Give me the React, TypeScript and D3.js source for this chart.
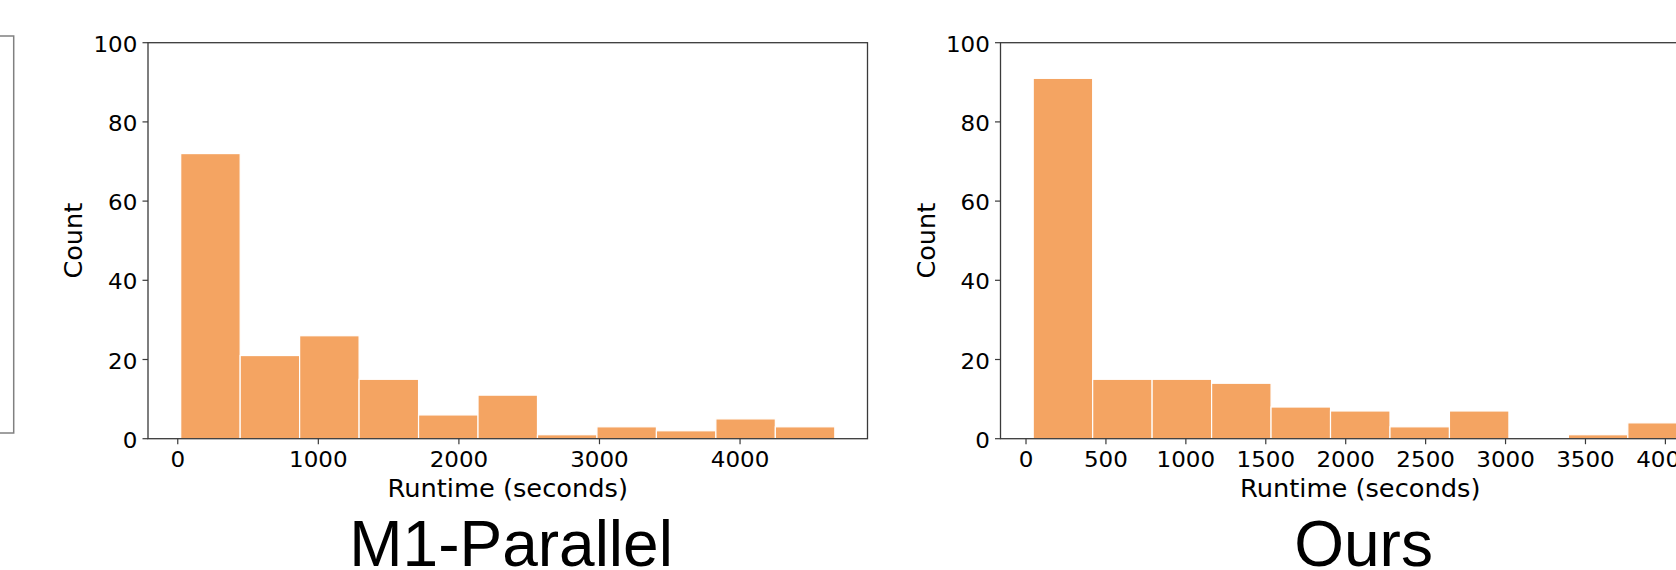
import React, { useEffect, useRef } from "react";
import * as d3 from "d3";

// runtime histograms, 11 equal bins each
const m1Range = [21, 4674];
const m1Counts = [72, 21, 26, 15, 6, 11, 1, 3, 2, 5, 3];
const m1XTicks = [0, 1000, 2000, 3000, 4000];

const oursRange = [45, 4137];
const oursCounts = [91, 15, 15, 14, 8, 7, 3, 7, 0, 1, 4];
const oursXTicks = [0, 500, 1000, 1500, 2000, 2500, 3000, 3500, 4000];

const yTicks = [0, 20, 40, 60, 80, 100];

const W = 1676;
const H = 570;
const BAR = "#f4a462";
const SPINE = "#3a3a3a";
const TICK_FONT = "'DejaVu Sans', sans-serif";

function drawHist(svg, left, range, counts, xTicks, title) {
  const width = 719.5;
  const top = 42.7;
  const bottom = 438.7;
  const [lo, hi] = range;
  const pad = (hi - lo) * 0.05;

  const x = d3.scaleLinear().domain([lo - pad, hi + pad]).range([left, left + width]);
  const y = d3.scaleLinear().domain([0, 100]).range([bottom, top]);

  const step = (hi - lo) / counts.length;
  const bins = counts.map((c, i) => ({ x0: lo + i * step, x1: lo + (i + 1) * step, c }));

  const g = svg.append("g");

  g.selectAll("rect.bar")
    .data(bins.filter((b) => b.c > 0))
    .enter()
    .append("rect")
    .attr("class", "bar")
    .attr("x", (d) => x(d.x0))
    .attr("width", (d) => x(d.x1) - x(d.x0))
    .attr("y", (d) => y(d.c))
    .attr("height", (d) => y(0) - y(d.c))
    .attr("fill", BAR)
    .attr("stroke", "#ffffff")
    .attr("stroke-width", 1.2);

  // frame
  g.append("rect")
    .attr("x", left)
    .attr("y", top)
    .attr("width", width)
    .attr("height", bottom - top)
    .attr("fill", "none")
    .attr("stroke", SPINE)
    .attr("stroke-width", 1.3);

  // y ticks
  yTicks.forEach((t) => {
    g.append("line")
      .attr("x1", left - 5.5)
      .attr("x2", left)
      .attr("y1", y(t))
      .attr("y2", y(t))
      .attr("stroke", SPINE)
      .attr("stroke-width", 1.2);
    g.append("text")
      .attr("transform", `translate(${left - 10.7},${y(t) + 9}) scale(1.07,1)`)
      .attr("text-anchor", "end")
      .attr("font-family", TICK_FONT)
      .attr("font-size", 21.5)
      .attr("fill", "#000")
      .text(t);
  });

  // x ticks
  xTicks.forEach((t) => {
    g.append("line")
      .attr("x1", x(t))
      .attr("x2", x(t))
      .attr("y1", bottom)
      .attr("y2", bottom + 5.5)
      .attr("stroke", SPINE)
      .attr("stroke-width", 1.2);
    g.append("text")
      .attr("transform", `translate(${x(t)},${466.5}) scale(1.07,1)`)
      .attr("text-anchor", "middle")
      .attr("font-family", TICK_FONT)
      .attr("font-size", 21.5)
      .attr("fill", "#000")
      .text(t);
  });

  const cx = left + width / 2;

  g.append("text")
    .attr("transform", `translate(${cx},496.5) scale(1.07,1)`)
    .attr("text-anchor", "middle")
    .attr("font-family", TICK_FONT)
    .attr("font-size", 24)
    .attr("fill", "#000")
    .text("Runtime (seconds)");

  g.append("text")
    .attr("transform", `translate(${left - 66},${(top + bottom) / 2}) rotate(-90)`)
    .attr("text-anchor", "middle")
    .attr("font-family", TICK_FONT)
    .attr("font-size", 25.5)
    .attr("fill", "#000")
    .text("Count");

  g.append("text")
    .attr("x", cx + 3.3)
    .attr("y", 565.5)
    .attr("text-anchor", "middle")
    .attr("font-family", "'Liberation Sans', Arial, sans-serif")
    .attr("font-size", 64)
    .attr("fill", "#000")
    .text(title);
}

export default function App() {
  const ref = useRef(null);

  useEffect(() => {
    if (!ref.current) return;
    const svg = d3.select(ref.current);
    svg.selectAll("*").remove();

    svg.append("rect").attr("width", W).attr("height", H).attr("fill", "#fff");

    // edge of the neighbouring panel, cut off on the left
    svg.append("rect")
      .attr("x", -20)
      .attr("y", 36)
      .attr("width", 33.7)
      .attr("height", 397)
      .attr("fill", "none")
      .attr("stroke", "#808080")
      .attr("stroke-width", 1.5);

    drawHist(svg, 148, m1Range, m1Counts, m1XTicks, "M1-Parallel");
    drawHist(svg, 1000.5, oursRange, oursCounts, oursXTicks, "Ours");
  }, []);

  return (
    <svg
      ref={ref}
      width={W}
      height={H}
      style={{ position: "absolute", left: 0, top: 0, display: "block" }}
    />
  );
}
